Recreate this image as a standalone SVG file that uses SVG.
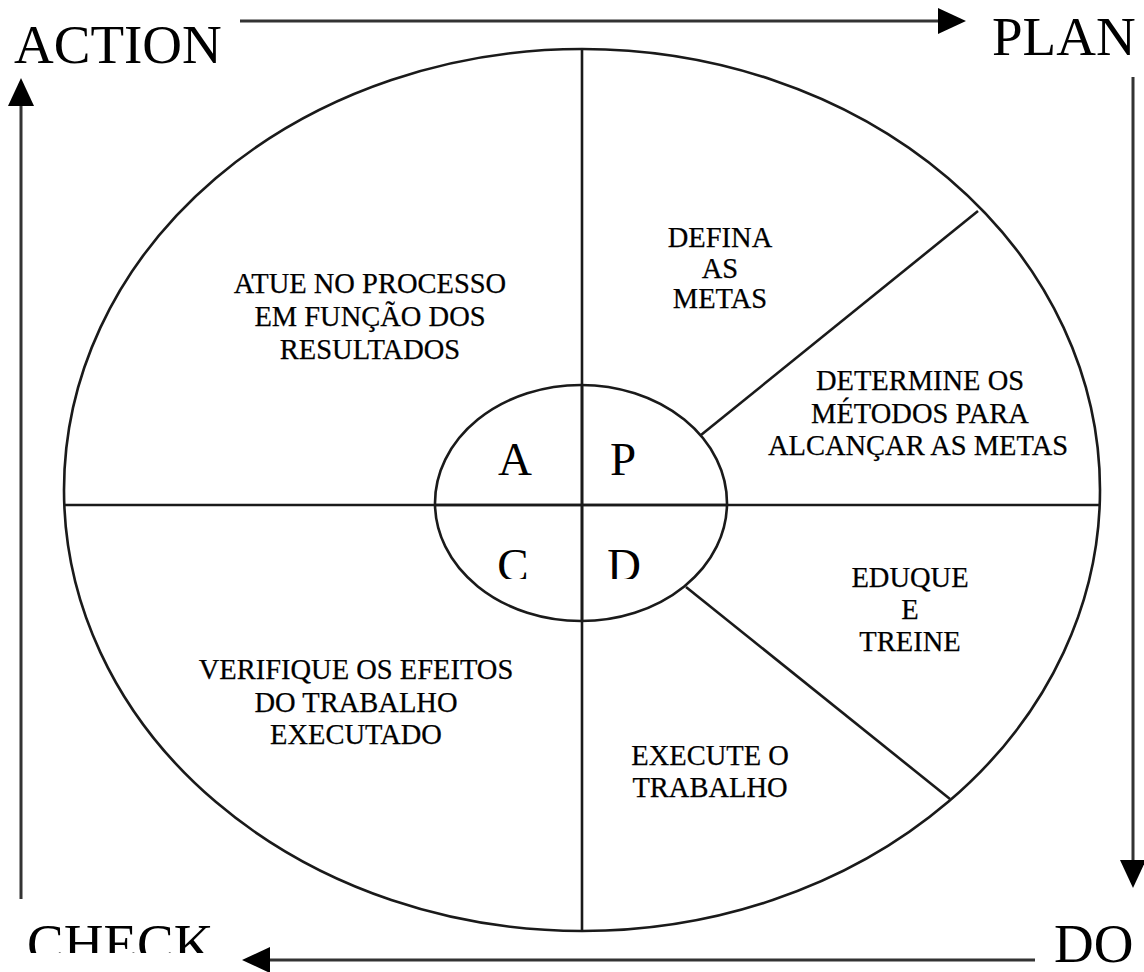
<svg xmlns="http://www.w3.org/2000/svg" width="1144" height="972" viewBox="0 0 1144 972">
  <style>
    .ln { stroke: #1a1a1a; stroke-width: 2.6; fill: none; }
    .arr { stroke: #333; stroke-width: 3; fill: none; }
    .big { font-family: "Liberation Serif", "Times New Roman", serif; font-size: 55px; fill: #000; }
    .ltr { font-family: "Liberation Serif", "Times New Roman", serif; font-size: 47px; fill: #000; text-anchor: middle; }
    .lbl { font-family: "Liberation Serif", "Times New Roman", serif; font-size: 28.5px; fill: #000; text-anchor: middle; stroke: #000; stroke-width: 0.25; }
  </style>
  <defs>
    <clipPath id="clipCheck"><rect x="0" y="900" width="300" height="53"/></clipPath>
    <clipPath id="clipLow"><rect x="440" y="530" width="250" height="49"/></clipPath>
  </defs>
  <rect width="1144" height="972" fill="#fff"/>

  <!-- cycle arrows around the wheel -->
  <g id="connectors">
    <line class="arr" x1="240" y1="21" x2="940" y2="21"/>
    <path d="M938,8 L966,21 L938,34 Z" fill="#000"/>
    <line class="arr" x1="1133" y1="77" x2="1133" y2="862"/>
    <path d="M1120,860 L1133,888 L1146,860 Z" fill="#000"/>
    <line class="arr" x1="1035" y1="960" x2="268" y2="960"/>
    <path d="M270,947 L242,960 L270,973 Z" fill="#000"/>
    <line class="arr" x1="21" y1="899" x2="21" y2="104"/>
    <path d="M8,106 L21,78 L34,106 Z" fill="#000"/>
  </g>

  <!-- the wheel -->
  <g id="wheel">
    <ellipse class="ln" cx="582" cy="490" rx="518" ry="441"/>
    <line class="ln" x1="64" y1="505" x2="1100" y2="505"/>
    <line class="ln" x1="582" y1="49" x2="582" y2="930"/>
    <line class="ln" x1="701" y1="435" x2="978" y2="211"/>
    <line class="ln" x1="686" y1="587" x2="950" y2="799"/>
    <ellipse class="ln" cx="581" cy="503" rx="146" ry="118" fill="#fff"/>
    <line class="ln" x1="435" y1="505" x2="727" y2="505"/>
    <line class="ln" x1="582" y1="385" x2="582" y2="621"/>
  </g>

  <g id="hub">
    <text class="ltr" x="515" y="475">A</text>
    <text class="ltr" x="623" y="475">P</text>
    <g clip-path="url(#clipLow)">
      <text class="ltr" x="513" y="581">C</text>
      <text class="ltr" x="624" y="581">D</text>
    </g>
  </g>

  <!-- stage names -->
  <g id="action"><text class="big" x="14" y="63">ACTION</text></g>
  <g id="plan"><text class="big" x="992" y="55">PLAN</text></g>
  <g id="do"><text class="big" x="1054" y="962">DO</text></g>
  <g id="check" clip-path="url(#clipCheck)"><text class="big" x="27" y="962">CHECK</text></g>

  <!-- sector texts -->
  <g id="atue">
    <text class="lbl" x="370" y="293">ATUE NO PROCESSO</text>
    <text class="lbl" x="370" y="326">EM FUNÇÃO DOS</text>
    <text class="lbl" x="370" y="359">RESULTADOS</text>
  </g>
  <g id="defina">
    <text class="lbl" x="720" y="247">DEFINA</text>
    <text class="lbl" x="720" y="278">AS</text>
    <text class="lbl" x="720" y="308">METAS</text>
  </g>
  <g id="determine">
    <text class="lbl" x="920" y="390">DETERMINE OS</text>
    <text class="lbl" x="920" y="423">MÉTODOS PARA</text>
    <text class="lbl" x="918" y="455">ALCANÇAR AS METAS</text>
  </g>
  <g id="eduque">
    <text class="lbl" x="910" y="587">EDUQUE</text>
    <text class="lbl" x="910" y="619">E</text>
    <text class="lbl" x="910" y="651">TREINE</text>
  </g>
  <g id="execute">
    <text class="lbl" x="710" y="765">EXECUTE O</text>
    <text class="lbl" x="710" y="797">TRABALHO</text>
  </g>
  <g id="verifique">
    <text class="lbl" x="356" y="679">VERIFIQUE OS EFEITOS</text>
    <text class="lbl" x="356" y="712">DO TRABALHO</text>
    <text class="lbl" x="356" y="744">EXECUTADO</text>
  </g>
</svg>
